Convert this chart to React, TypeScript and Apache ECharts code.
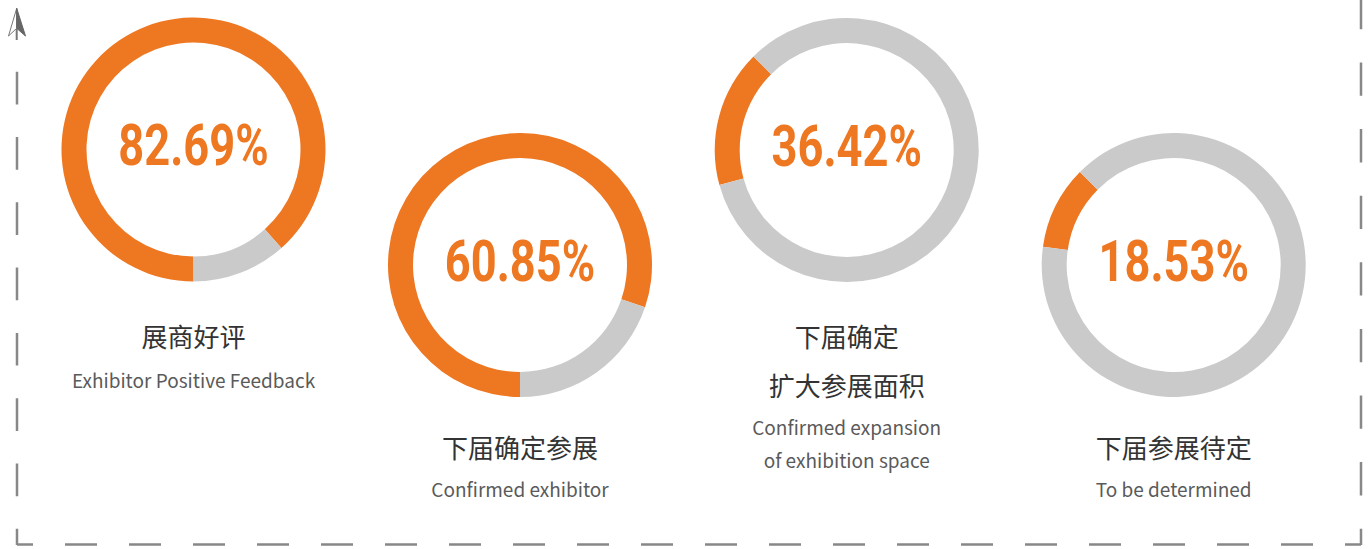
import React, { useEffect, useRef } from "react";
import * as echarts from "echarts";

// ---- data ----
const percentLabels = ["82.69%", "60.85%", "36.42%", "18.53%"];
// share of each ring drawn in orange (in % of the full circle)
const orangeShare = [88.4, 80.2, 16.8, 10.2];
// angle (ECharts degrees) where the orange arc starts, going clockwise
const arcStart = [-90, -90, 195.4, 172];
const titlesCn = [["展商好评"], ["下届确定参展"], ["下届确定", "扩大参展面积"], ["下届参展待定"]];
const titlesEn = [
  ["Exhibitor Positive Feedback"],
  ["Confirmed exhibitor"],
  ["Confirmed expansion", "of exhibition space"],
  ["To be determined"],
];

// ---- layout ----
const centerX = [193.5, 520, 846.7, 1173.7];
const centerY = [149.5, 265, 150, 265];
const cnY = [[335], [446.5], [335, 384], [446.5]];
const enY = [[379], [488], [426, 459], [488]];

const ORANGE = "#EE7722";
const GRAY = "#CACACA";
const FRAME = "#888888";

export default function App() {
  const ref = useRef<HTMLDivElement>(null);
  useEffect(() => {
    if (!ref.current) return;
    const chart = echarts.init(ref.current, undefined, { renderer: "svg" });

    const series = percentLabels.map((_, i) => ({
      type: "pie",
      center: [centerX[i], centerY[i]],
      radius: [107, 132],
      startAngle: arcStart[i],
      clockwise: true,
      silent: true,
      label: { show: false },
      labelLine: { show: false },
      emphasis: { disabled: true },
      data: [
        { value: orangeShare[i], itemStyle: { color: ORANGE } },
        { value: 100 - orangeShare[i], itemStyle: { color: GRAY } },
      ],
    }));

    const texts: any[] = [];
    percentLabels.forEach((p, i) => {
      texts.push({
        type: "text",
        x: centerX[i],
        y: centerY[i] - 4,
        scaleX: 0.78,
        style: {
          text: p,
          fill: ORANGE,
          fontSize: 58,
          fontWeight: "bold",
          fontFamily: "Roboto",
          align: "center",
          verticalAlign: "middle",
        },
      });
      titlesCn[i].forEach((t, j) => {
        texts.push({
          type: "text",
          x: centerX[i],
          y: cnY[i][j],
          style: {
            text: t,
            fill: "#333333",
            fontSize: 26,
            fontFamily: "Noto Sans CJK SC",
            align: "center",
            verticalAlign: "middle",
          },
        });
      });
      titlesEn[i].forEach((t, j) => {
        texts.push({
          type: "text",
          x: centerX[i],
          y: enY[i][j],
          style: {
            text: t,
            fill: "#5a5a5a",
            fontSize: 19,
            fontFamily: "Noto Sans CJK SC",
            align: "center",
            verticalAlign: "middle",
          },
        });
      });
    });

    const frame: any[] = [
      {
        type: "line",
        shape: { x1: 17, y1: 71.7, x2: 17, y2: 545 },
        style: { stroke: FRAME, lineWidth: 2.5, lineDash: [32.7, 32.6] },
      },
      {
        type: "line",
        shape: { x1: 17, y1: 544.5, x2: 1361, y2: 544.5 },
        style: { stroke: FRAME, lineWidth: 2.5, lineDash: [32, 32], lineDashOffset: 16 },
      },
      {
        type: "line",
        shape: { x1: 1361, y1: 545, x2: 1361, y2: -10 },
        style: { stroke: FRAME, lineWidth: 2.5, lineDash: [33.3, 33.3], lineDashOffset: 16.6 },
      },
      // north arrow
      {
        type: "line",
        shape: { x1: 16.7, y1: 28, x2: 16.7, y2: 40 },
        style: { stroke: "#777", lineWidth: 2 },
      },
      {
        type: "polygon",
        shape: { points: [[16.7, 8.3], [8.5, 36], [16.7, 28.3]] },
        style: { fill: "#ffffff", stroke: "#777", lineWidth: 1 },
      },
      {
        type: "polygon",
        shape: { points: [[16.7, 8.3], [25.5, 36], [16.7, 28.3]] },
        style: { fill: "#666666", stroke: "#666666", lineWidth: 1 },
      },
    ];

    chart.setOption({
      animation: false,
      backgroundColor: "#ffffff",
      series,
      graphic: { elements: [...frame, ...texts] },
    });
    return () => chart.dispose();
  }, []);
  return (
    <div
      ref={ref}
      style={{ position: "absolute", left: 0, top: 0, width: 1370, height: 549 }}
    />
  );
}
